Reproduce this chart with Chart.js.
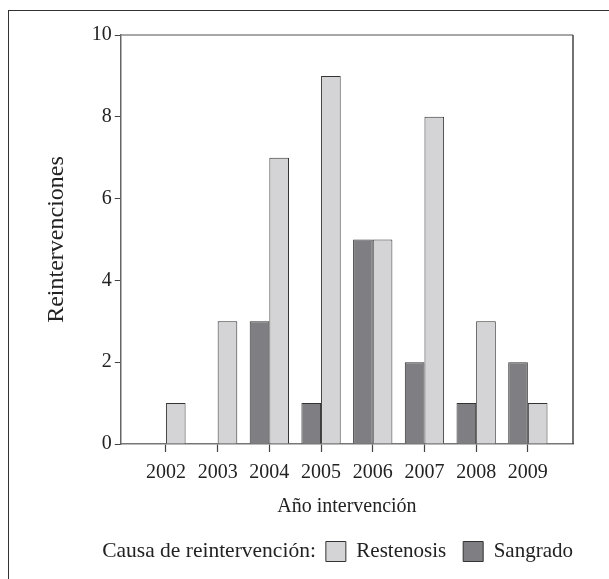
<!DOCTYPE html>
<html>
<head>
<meta charset="utf-8">
<script src="https://cdn.jsdelivr.net/npm/chart.js@4"></script>
<style>
  body { margin: 0; background: #fff; }
  #wrap { position: relative; width: 609px; height: 579px; overflow: hidden; }
  #frame { position: absolute; left: 8px; top: 10px; width: 700px; height: 700px;
           border-left: 1.5px solid #333; border-top: 1.5px solid #333; }
  canvas { position: absolute; left: 0; top: 0; }
</style>
</head>
<body>
<div id="wrap">
  <div id="frame"></div>
  <canvas id="chart" width="609" height="579"></canvas>
</div>
<script>
const years = [2002, 2003, 2004, 2005, 2006, 2007, 2008, 2009];
const sangrado = [0, 0, 3, 1, 5, 2, 1, 2];
const restenosis = [1, 3, 7, 9, 5, 8, 3, 1];
const yTicks = [0, 2, 4, 6, 8, 10];

const serif = 'Liberation Serif, Times New Roman, serif';
const textColor = '#222';

// caja alrededor del área del gráfico + título de la leyenda en la misma línea
const boxPlugin = {
  id: 'boxPlugin',
  afterLayout(chart) {
    // la leyenda termina justo en el borde derecho del gráfico
    const legend = chart.legend;
    if (legend) legend.right += legend.options.labels.padding;
  },
  afterDraw(chart) {
    const { ctx, chartArea } = chart;
    ctx.save();
    ctx.strokeStyle = '#8a8a8a';
    ctx.lineWidth = 1.5;
    ctx.beginPath();
    ctx.moveTo(chartArea.left, chartArea.top);
    ctx.lineTo(chartArea.right, chartArea.top);
    ctx.stroke();
    ctx.strokeStyle = '#444';
    ctx.beginPath();
    ctx.moveTo(chartArea.right, chartArea.top);
    ctx.lineTo(chartArea.right, chartArea.bottom);
    ctx.stroke();

    const boxes = chart.legend.legendHitBoxes;
    if (boxes && boxes.length) {
      const first = boxes[0];
      ctx.fillStyle = textColor;
      ctx.font = '21.5px ' + serif;
      ctx.textAlign = 'right';
      ctx.textBaseline = 'middle';
      ctx.fillText('Causa de reintervención:', first.left - 10, first.top + first.height / 2);
    }
    ctx.restore();
  }
};

new Chart(document.getElementById('chart'), {
  type: 'bar',
  data: {
    datasets: [
      {
        label: 'Sangrado',
        data: years.map((y, i) => ({ x: y, y: sangrado[i] })),
        backgroundColor: '#7f7f83',
        borderColor: '#333',
        borderWidth: 1
      },
      {
        label: 'Restenosis',
        data: years.map((y, i) => ({ x: y, y: restenosis[i] })),
        backgroundColor: '#d4d4d6',
        borderColor: '#333',
        borderWidth: 1
      }
    ]
  },
  options: {
    responsive: false,
    animation: false,
    layout: { padding: { top: 35, right: 36, left: 42, bottom: 7 } },
    datasets: {
      bar: { categoryPercentage: 0.76, barPercentage: 1 }
    },
    scales: {
      x: {
        type: 'linear',
        offset: false,
        min: 2001.127,
        max: 2009.873,
        afterBuildTicks(axis) { axis.ticks = years.map(v => ({ value: v })); },
        grid: { display: true, offset: false, drawOnChartArea: false, tickLength: 8, color: '#444', tickWidth: 1.2 },
        border: { color: '#777', width: 1.5 },
        ticks: { color: textColor, font: { family: serif, size: 20 }, padding: 9, maxRotation: 0, callback: v => String(v) },
        title: { display: true, text: 'Año intervención', color: textColor, font: { family: serif, size: 20 }, padding: { top: 1, bottom: 5 } }
      },
      y: {
        min: 0,
        max: 10,
        afterBuildTicks(axis) { axis.ticks = yTicks.map(v => ({ value: v })); },
        grid: { display: true, drawOnChartArea: false, tickLength: 6, color: '#444', tickWidth: 1 },
        border: { color: '#666', width: 1.5 },
        ticks: { color: textColor, font: { family: serif, size: 20 }, padding: 3 },
        title: { display: true, text: 'Reintervenciones', color: textColor, font: { family: serif, size: 24 }, padding: { top: 0, bottom: 18 } }
      }
    },
    plugins: {
      legend: {
        position: 'bottom',
        align: 'end',
        reverse: true,
        labels: {
          color: textColor,
          font: { family: serif, size: 21 },
          boxWidth: 20,
          boxHeight: 20,
          padding: 17
        }
      },
      tooltip: { enabled: false }
    }
  },
  plugins: [boxPlugin]
});
</script>
</body>
</html>
